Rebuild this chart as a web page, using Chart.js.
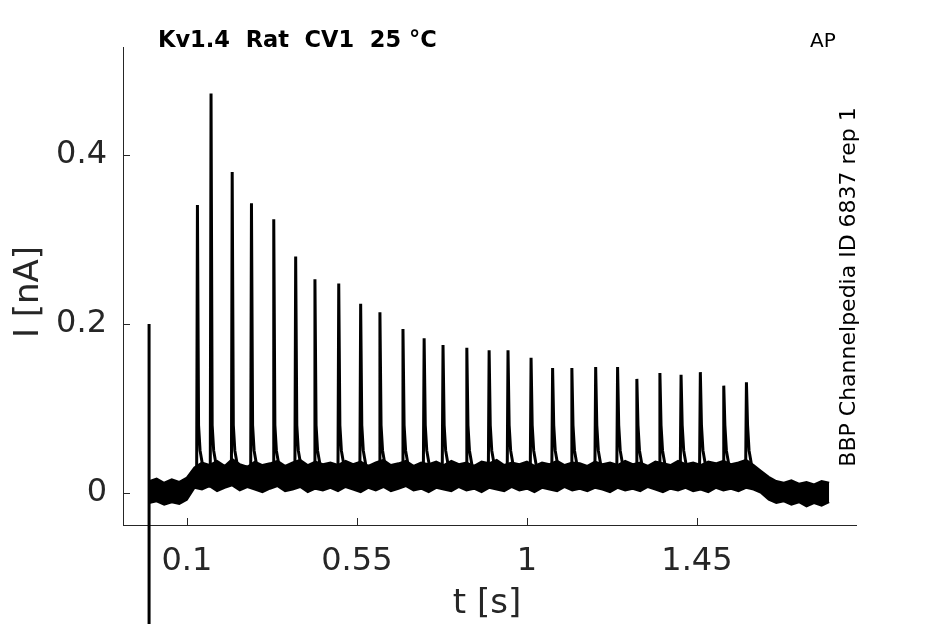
<!DOCTYPE html>
<html>
<head>
<meta charset="utf-8">
<script src="https://cdn.jsdelivr.net/npm/chart.js@4.4.1/dist/chart.umd.min.js"></script>
<style>
  html, body { margin: 0; padding: 0; background: #fff; }
  #wrap { width: 945px; height: 624px; }
</style>
</head>
<body>
<div id="wrap"><canvas id="myChart" width="945" height="624"></canvas></div>
<script>
// spike train (s, nA)
const spikeTimes = [0.128, 0.164, 0.220, 0.271, 0.330, 0.388, 0.439, 0.502, 0.560, 0.611,
                    0.672, 0.728, 0.778, 0.841, 0.900, 0.950, 1.011, 1.068, 1.119, 1.182,
                    1.240, 1.291, 1.352, 1.408, 1.459, 1.521, 1.581];
const spikePeaks = [0.341, 0.473, 0.380, 0.343, 0.324, 0.280, 0.253, 0.248, 0.224, 0.214,
                    0.194, 0.183, 0.175, 0.172, 0.169, 0.169, 0.160, 0.148, 0.148, 0.149,
                    0.149, 0.135, 0.142, 0.140, 0.143, 0.127, 0.131];
// decay after each peak: time after peak (s) and current (nA)
const tailDt = [0.003, 0.007, 0.014];
const tailI = [0.080, 0.050, 0.032];

// noisy baseline envelope
const bandT = [0.00, 0.02, 0.04, 0.06, 0.08, 0.10, 0.12, 0.14, 0.16, 0.18,
               0.20, 0.22, 0.24, 0.26, 0.28, 0.30, 0.32, 0.34, 0.36, 0.38,
               0.40, 0.42, 0.44, 0.46, 0.48, 0.50, 0.52, 0.54, 0.56, 0.58,
               0.60, 0.62, 0.64, 0.66, 0.68, 0.70, 0.72, 0.74, 0.76, 0.78,
               0.80, 0.82, 0.84, 0.86, 0.88, 0.90, 0.92, 0.94, 0.96, 0.98,
               1.00, 1.02, 1.04, 1.06, 1.08, 1.10, 1.12, 1.14, 1.16, 1.18,
               1.20, 1.22, 1.24, 1.26, 1.28, 1.30, 1.32, 1.34, 1.36, 1.38,
               1.40, 1.42, 1.44, 1.46, 1.48, 1.50, 1.52, 1.54, 1.56, 1.58,
               1.60, 1.62, 1.64, 1.66, 1.68, 1.70, 1.72, 1.74, 1.76, 1.78, 1.80];
const bandHi = [0.014, 0.017, 0.012, 0.016, 0.013, 0.018, 0.030, 0.036, 0.033, 0.038,
                0.032, 0.040, 0.034, 0.031, 0.037, 0.033, 0.035, 0.038, 0.032, 0.036,
                0.039, 0.033, 0.037, 0.034, 0.036, 0.033, 0.038, 0.034, 0.037, 0.032,
                0.036, 0.039, 0.033, 0.035, 0.038, 0.032, 0.036, 0.034, 0.037, 0.033,
                0.038, 0.034, 0.036, 0.032, 0.037, 0.035, 0.039, 0.033, 0.036, 0.034,
                0.037, 0.032, 0.036, 0.034, 0.038, 0.033, 0.036, 0.035, 0.032, 0.037,
                0.034, 0.036, 0.033, 0.038, 0.034, 0.036, 0.032, 0.037, 0.035, 0.033,
                0.038, 0.034, 0.036, 0.033, 0.037, 0.035, 0.038, 0.034, 0.036, 0.039,
                0.033, 0.026, 0.019, 0.014, 0.012, 0.015, 0.011, 0.013, 0.010, 0.014, 0.012];
const bandLo = [-0.012, -0.010, -0.014, -0.011, -0.013, -0.008, 0.006, 0.004, 0.008, 0.002,
                0.006, 0.009, 0.003, 0.007, 0.004, 0.001, 0.005, 0.008, 0.002, 0.004,
                0.007, 0.001, 0.005, 0.003, 0.006, 0.002, 0.007, 0.004, 0.001, 0.006,
                0.003, 0.007, 0.002, 0.005, 0.008, 0.003, 0.005, 0.001, 0.006, 0.004,
                0.002, 0.007, 0.003, 0.005, 0.001, 0.006, 0.004, 0.002, 0.007, 0.003,
                0.005, 0.001, 0.006, 0.004, 0.002, 0.007, 0.003, 0.005, 0.002, 0.006,
                0.004, 0.001, 0.006, 0.003, 0.005, 0.002, 0.007, 0.004, 0.001, 0.005,
                0.003, 0.006, 0.002, 0.004, 0.001, 0.006, 0.003, 0.005, 0.002, 0.006,
                0.004, 0.000, -0.008, -0.012, -0.010, -0.014, -0.011, -0.016, -0.012, -0.015, -0.011];

// capacitive artifact at t = 0
const artifactT = [0, 0];
const artifactI = [0.2, -0.6];

const xTicks = [0.1, 0.55, 1, 1.45];
const yTicks = [0, 0.2, 0.4];

const ink = '#262626';
const font = 'DejaVu Sans';

function pts(xs, ys) {
    return xs.map((x, i) => ({ x: x, y: ys[i] }));
}

let spikeLine = [];
spikeTimes.forEach((t, i) => {
    spikeLine.push({ x: t - 0.002, y: 0.030 });
    spikeLine.push({ x: t, y: spikePeaks[i] });
    tailDt.forEach((d, k) => spikeLine.push({ x: t + d, y: tailI[k] }));
});

const inwardTicks = {
    id: 'inwardTicks',
    afterDraw(chart) {
        const ctx = chart.ctx;
        const a = chart.chartArea;
        const xs = chart.scales.x, ys = chart.scales.y;
        ctx.save();
        ctx.strokeStyle = ink;
        ctx.lineWidth = 1;
        ctx.beginPath();
        yTicks.forEach(v => {
            const y = Math.round(ys.getPixelForValue(v)) + 0.5;
            ctx.moveTo(a.left, y);
            ctx.lineTo(a.left + 7, y);
        });
        xTicks.forEach(v => {
            const x = Math.round(xs.getPixelForValue(v)) + 0.5;
            ctx.moveTo(x, a.bottom);
            ctx.lineTo(x, a.bottom - 7);
        });
        ctx.stroke();

        ctx.fillStyle = '#000';
        ctx.textAlign = 'left';
        ctx.textBaseline = 'alphabetic';
        ctx.font = 'bold 22.5px "' + font + '"';
        ctx.fillText('Kv1.4  Rat  CV1  25 °C', 158, 47);
        ctx.font = '20px "' + font + '"';
        ctx.fillText('AP', 810, 47);

        ctx.textAlign = 'center';
        ctx.textBaseline = 'middle';
        ctx.font = '34px "' + font + '"';
        ctx.fillStyle = ink;
        ctx.fillText('t [s]', 487, 604);
        ctx.save();
        ctx.translate(29, 292);
        ctx.rotate(-Math.PI / 2);
        ctx.fillText('I [nA]', 0, 0);
        ctx.restore();

        ctx.fillStyle = '#000';
        ctx.font = '22px "' + font + '"';
        ctx.save();
        ctx.translate(849, 287);
        ctx.rotate(-Math.PI / 2);
        ctx.fillText('BBP Channelpedia ID 6837 rep 1', 0, 0);
        ctx.restore();
        ctx.restore();
    }
};

const ctx = document.getElementById('myChart').getContext('2d');
const myChart = new Chart(ctx, {
    type: 'line',
    data: {
        datasets: [
            {
                data: pts(bandT, bandHi),
                borderColor: '#000', borderWidth: 2,
                pointRadius: 0, fill: false
            },
            {
                data: pts(bandT, bandLo),
                borderColor: '#000', borderWidth: 2,
                backgroundColor: '#000',
                pointRadius: 0, fill: '-1'
            },
            {
                data: spikeLine,
                borderColor: '#000', borderWidth: 3,
                pointRadius: 0, fill: false
            },
            {
                data: pts(artifactT, artifactI),
                borderColor: '#000', borderWidth: 3,
                pointRadius: 0, fill: false, clip: false
            }
        ]
    },
    options: {
        responsive: false,
        animation: false,
        events: [],
        layout: { padding: { top: 47, right: 89, left: 0, bottom: 0 } },
        plugins: { legend: { display: false }, tooltip: { enabled: false } },
        elements: { line: { tension: 0 } },
        scales: {
            x: {
                type: 'linear',
                min: -0.069, max: 1.871,
                afterBuildTicks: s => { s.ticks = xTicks.map(v => ({ value: v })); },
                afterFit: s => { s.height = 99; },
                grid: { display: true, drawOnChartArea: false, drawTicks: false },
                border: { display: true, color: ink, width: 1 },
                ticks: {
                    color: ink, padding: 17, maxRotation: 0,
                    font: { family: font, size: 32 },
                    callback: v => String(v)
                }
            },
            y: {
                min: -0.038, max: 0.528,
                afterBuildTicks: s => { s.ticks = yTicks.map(v => ({ value: v })); },
                afterFit: s => { s.width = 123; },
                grid: { display: true, drawOnChartArea: false, drawTicks: false },
                border: { display: true, color: ink, width: 1 },
                ticks: {
                    color: ink, padding: 16,
                    font: { family: font, size: 32, lineHeight: 1.0 },
                    callback: v => String(v)
                }
            }
        }
    },
    plugins: [inwardTicks]
});
</script>
</body>
</html>
